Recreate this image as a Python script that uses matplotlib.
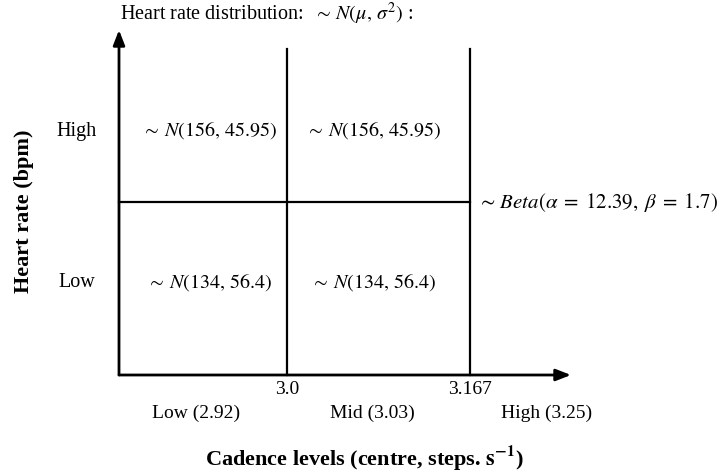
import matplotlib
matplotlib.use('Agg')
import matplotlib.pyplot as plt

plt.rcParams['font.family'] = 'Liberation Serif'
plt.rcParams['mathtext.fontset'] = 'stix'

# cadence axis
x_start = 2.847
x_end = 3.259
cadence_bounds = [3.0, 3.167]
bound_labels = ['3.0', '3.167']
cadence_labels = ['Low (2.92)', 'Mid (3.03)', 'High (3.25)']

# heart rate axis (levels only, no units)
hr_levels = ['Low', 'High']
hr_split = 1.0
y_top = 2.0
line_top = 1.89

# distribution params per cell (low cadence, mid cadence)
high_mu = [156, 156]
high_var = [45.95, 45.95]
low_mu = [134, 134]
low_var = [56.4, 56.4]
beta_alpha = 12.39
beta_beta = 1.7

fig = plt.figure(figsize=(7.23, 4.73), dpi=100)
ax = fig.add_axes([119/723, 98/473, (571-119)/723, (375-30)/473])
ax.set_xlim(x_start, x_end)
ax.set_ylim(0, y_top)
ax.axis('off')

# axes arrows
arw = dict(arrowstyle='-|>,head_length=0.9,head_width=0.35', color='black', lw=2, shrinkA=0, shrinkB=0)
ax.annotate('', xy=(x_end, 0), xytext=(x_start, 0), arrowprops=arw, annotation_clip=False)
ax.annotate('', xy=(x_start, y_top), xytext=(x_start, 0), arrowprops=arw, annotation_clip=False)

# grid lines
for b in cadence_bounds:
    ax.plot([b, b], [0, line_top], color='black', lw=1.6, clip_on=False)
ax.plot([x_start, cadence_bounds[-1]], [hr_split, hr_split], color='black', lw=1.6, clip_on=False)

edges = [x_start] + cadence_bounds + [x_end]
centres = [(edges[i] + edges[i+1]) / 2 for i in range(len(edges) - 1)]
label_shift = [-0.006, -0.006, 0.024]
cell_shift = [0.006, -0.004]
y_low = hr_split * 0.535
y_high = hr_split * 1.42

for i in range(2):
    ax.text(centres[i] + cell_shift[i], y_high, r'$\sim\, N(%g,\, %g)$' % (high_mu[i], high_var[i]),
            ha='center', va='center', fontsize=14.5)
    ax.text(centres[i] + cell_shift[i], y_low, r'$\sim\, N(%g,\, %g)$' % (low_mu[i], low_var[i]),
            ha='center', va='center', fontsize=14.5)

ax.text(cadence_bounds[-1] + 0.006, hr_split,
        r'$\sim\, Beta(\alpha\;=\;%g,\; \beta\;=\;%g)$' % (beta_alpha, beta_beta),
        ha='left', va='center', fontsize=15)

# y level labels
ax.text(x_start - 0.039, y_high - 0.01, hr_levels[1], ha='center', va='center', fontsize=14.5)
ax.text(x_start - 0.038, y_low, hr_levels[0], ha='center', va='center', fontsize=14.5)

# x boundary labels and category labels
for b, lab in zip(cadence_bounds, bound_labels):
    ax.text(b, -0.085, lab, ha='center', va='center', fontsize=14)
for c, s, lab in zip(centres, label_shift, cadence_labels):
    ax.text(c + s, -0.22, lab, ha='center', va='center', fontsize=14)

ax.text(3.071, -0.48, r'Cadence levels (centre, steps$\mathbf{.\,s^{-1}}$)',
        ha='center', va='center', fontsize=16, fontweight='bold')
fig.text(24/723, 1 - 211/473, 'Heart rate (bpm)', rotation=90, ha='center', va='center',
         fontsize=16, fontweight='bold')

fig.text(120/723, 1 - 14/473, r'Heart rate distribution:  $\sim\, N(\mu,\, \sigma^2)$ :',
         ha='left', va='center', fontsize=14.5)

fig.savefig('out.png', dpi=100)
